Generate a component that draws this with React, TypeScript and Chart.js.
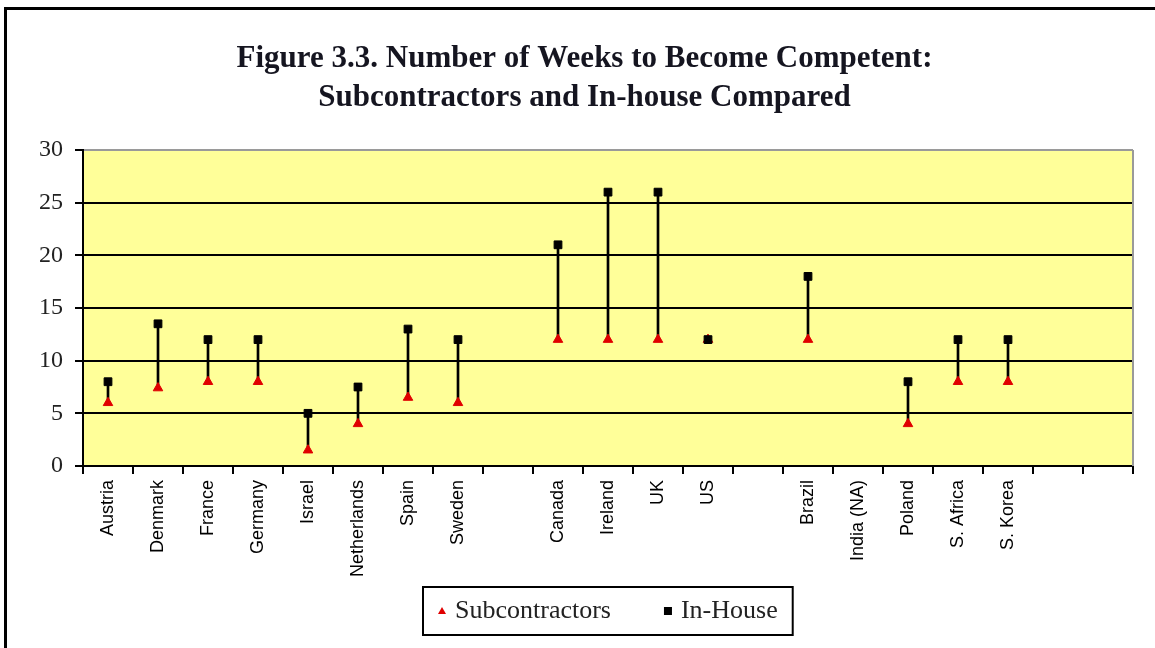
import React, { useEffect, useRef } from 'react';
import { Chart, registerables } from 'chart.js';

Chart.register(...registerables);

const titleLines = [
  'Figure 3.3. Number of Weeks to Become Competent:',
  'Subcontractors and In-house Compared',
];

const categories = [
  'Austria', 'Denmark', 'France', 'Germany', 'Israel', 'Netherlands', 'Spain', 'Sweden', '',
  'Canada', 'Ireland', 'UK', 'US', '',
  'Brazil', 'India (NA)', 'Poland', 'S. Africa', 'S. Korea', '', '',
];

const subcontractors: (number | null)[] = [
  6, 7.4, 8, 8, 1.5, 4, 6.5, 6, null,
  12, 12, 12, 12, null,
  12, null, 4, 8, 8, null, null,
];

const inHouse: (number | null)[] = [
  8, 13.5, 12, 12, 5, 7.5, 13, 12, null,
  21, 26, 26, 12, null,
  18, null, 8, 12, 12, null, null,
];

const yMin = 0;
const yMax = 30;
const yStep = 5;

export default function App() {
  const ref = useRef<HTMLCanvasElement>(null);

  useEffect(() => {
    if (!ref.current) return;

    const ranges = categories.map((_, i) =>
      subcontractors[i] == null || inHouse[i] == null ? null : [subcontractors[i], inHouse[i]]
    );

    const decor = {
      id: 'decor',
      beforeDraw(chart: any) {
        const { ctx, chartArea: a } = chart;
        ctx.save();
        ctx.fillStyle = '#ffffff';
        ctx.fillRect(0, 0, chart.width, chart.height);
        ctx.fillStyle = '#FFFF99';
        ctx.fillRect(a.left, a.top, a.right - a.left, a.bottom - a.top);
        ctx.restore();
      },
      beforeDatasetsDraw(chart: any) {
        const { ctx, chartArea: a } = chart;
        ctx.save();
        ctx.strokeStyle = '#9a9a9a';
        ctx.lineWidth = 2;
        ctx.beginPath();
        ctx.moveTo(a.right, a.top);
        ctx.lineTo(a.right, a.bottom);
        ctx.stroke();
        ctx.restore();
      },
      afterDraw(chart: any) {
        const { ctx, chartArea: a } = chart;
        ctx.save();
        // outer frame
        ctx.strokeStyle = '#000';
        ctx.lineWidth = 3;
        ctx.beginPath();
        ctx.moveTo(5.5, chart.height);
        ctx.lineTo(5.5, 8.5);
        ctx.lineTo(chart.width, 8.5);
        ctx.stroke();

        // legend
        const ds = chart.data.datasets;
        ctx.font = '26px "Liberation Serif"';
        const w1 = ctx.measureText(ds[0].label).width;
        const w2 = ctx.measureText(ds[1].label).width;
        const padL = 15, mW = 8, gap = 9, itemGap = 53, padR = 15;
        const total = padL + mW + gap + w1 + itemGap + mW + gap + w2 + padR;
        const cx = (a.left + a.right) / 2;
        const left = Math.round(cx - total / 2);
        const top = a.bottom + 121;
        const h = 48;
        const cy = top + h / 2;
        ctx.lineWidth = 2;
        ctx.strokeStyle = '#000';
        ctx.strokeRect(left, top, total, h);

        let x = left + padL;
        // triangle marker
        ctx.fillStyle = ds[0].backgroundColor;
        ctx.beginPath();
        ctx.moveTo(x + mW / 2, cy - 4);
        ctx.lineTo(x + mW, cy + 3);
        ctx.lineTo(x, cy + 3);
        ctx.closePath();
        ctx.fill();
        x += mW + gap;
        ctx.fillStyle = '#222';
        ctx.textBaseline = 'middle';
        ctx.textAlign = 'left';
        ctx.fillText(ds[0].label, x, cy);
        x += w1 + itemGap;
        ctx.fillStyle = ds[1].backgroundColor;
        ctx.fillRect(x, cy - 4, mW, mW);
        x += mW + gap;
        ctx.fillStyle = '#222';
        ctx.fillText(ds[1].label, x, cy);
        ctx.restore();
      },
    };

    const chart = new Chart(ref.current, {
      type: 'bar',
      data: {
        labels: categories,
        datasets: [
          {
            type: 'line',
            label: 'Subcontractors',
            data: subcontractors,
            showLine: false,
            pointStyle: 'triangle',
            pointRadius: 5.5,
            pointBorderWidth: 1,
            backgroundColor: '#e00000',
            borderColor: '#e00000',
            order: 2,
          } as any,
          {
            type: 'line',
            label: 'In-House',
            data: inHouse,
            showLine: false,
            pointStyle: 'rect',
            pointRadius: 5.5,
            pointBorderWidth: 1,
            backgroundColor: '#000000',
            borderColor: '#000000',
            order: 1,
          } as any,
          {
            type: 'bar',
            label: 'range',
            data: ranges as any,
            backgroundColor: '#000000',
            barThickness: 2,
            order: 3,
          } as any,
        ],
      },
      options: {
        responsive: false,
        animation: false,
        devicePixelRatio: 1,
        layout: { padding: { left: 36, right: 22, top: 0, bottom: 62 } },
        plugins: {
          legend: { display: false },
          tooltip: { enabled: false },
          title: {
            display: true,
            text: titleLines,
            color: '#151520',
            font: { family: '"Liberation Serif"', size: 31, weight: 'bold', lineHeight: 39 / 31 },
            padding: { top: 39, bottom: 33 },
          },
        },
        scales: {
          x: {
            type: 'category',
            offset: true,
            afterFit(scale: any) { scale.height = 120; },
            grid: {
              offset: true,
              drawOnChartArea: false,
              drawTicks: true,
              tickLength: 8,
              color: '#000',
              tickColor: '#000',
              lineWidth: 2,
            },
            border: { display: true, color: '#000', width: 2 },
            ticks: {
              autoSkip: false,
              minRotation: 90,
              maxRotation: 90,
              padding: 6,
              color: '#000',
              font: { family: '"Liberation Sans"', size: 18 },
            },
          },
          y: {
            min: yMin,
            max: yMax,
            afterFit(scale: any) { scale.width = 47; },
            grid: {
              color: (c: any) => (c.tick && c.tick.value === yMax ? '#9a9a9a' : '#000'),
              tickColor: '#000',
              lineWidth: 2,
              drawTicks: true,
              tickLength: 8,
            },
            border: { display: true, color: '#000', width: 2 },
            ticks: {
              stepSize: yStep,
              padding: 12,
              color: '#222',
              font: { family: '"Liberation Serif"', size: 24 },
            },
          },
        },
      } as any,
      plugins: [decor],
    });

    return () => chart.destroy();
  }, []);

  return (
    <div style={{ position: 'fixed', left: 0, top: 0, width: 1155, height: 648 }}>
      <canvas ref={ref} width={1155} height={648} style={{ display: 'block' }} />
    </div>
  );
}
